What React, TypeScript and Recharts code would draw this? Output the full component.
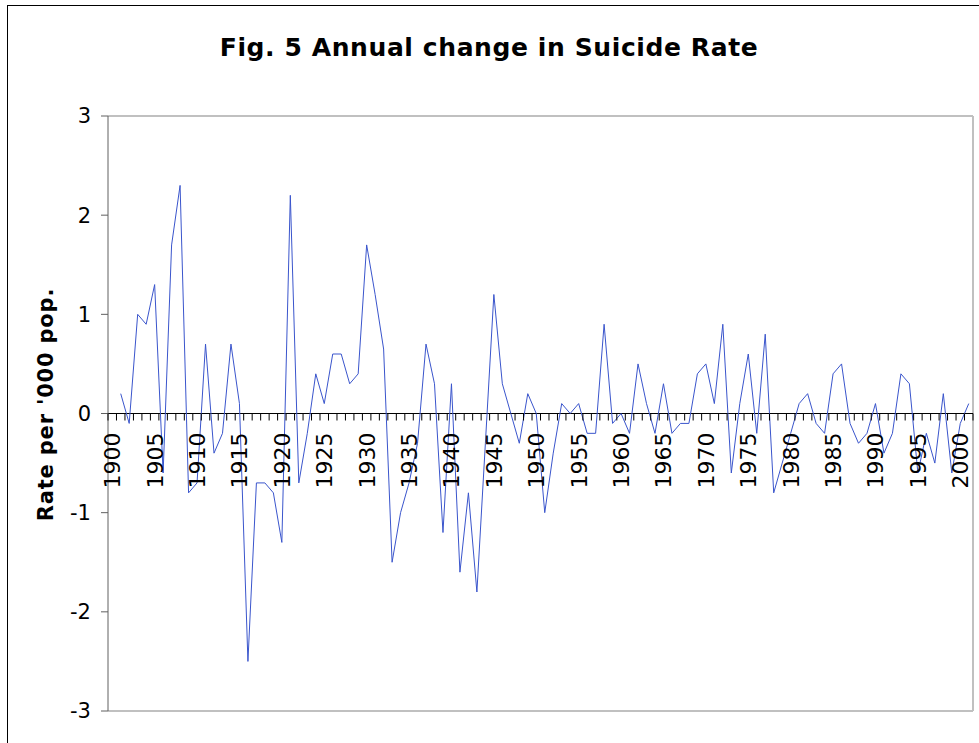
import React from 'react';
import { LineChart, Line, XAxis, YAxis, ReferenceLine, ReferenceDot } from 'recharts';

const FONT = '"DejaVu Sans", Verdana, sans-serif';

// Years of the category axis (1900 .. 2001); series starts at 1901
const firstCategoryYear = 1900;
const lastCategoryYear = 2001;
const firstDataYear = 1901;

// Annual change in suicide rate (per '000 pop.), 1901 .. 2001
const rateChange = [
  0.2, -0.1, 1.0, 0.9, 1.3, -0.6, 1.7, 2.3, -0.8, -0.7, // 1901-1910
  0.7, -0.4, -0.2, 0.7, 0.1, -2.5, -0.7, -0.7, -0.8, -1.3, // 1911-1920
  2.2, -0.7, -0.2, 0.4, 0.1, 0.6, 0.6, 0.3, 0.4, 1.7, // 1921-1930
  1.2, 0.65, -1.5, -1.0, -0.7, -0.3, 0.7, 0.3, -1.2, 0.3, // 1931-1940
  -1.6, -0.8, -1.8, -0.3, 1.2, 0.3, 0.0, -0.3, 0.2, 0.0, // 1941-1950
  -1.0, -0.4, 0.1, 0.0, 0.1, -0.2, -0.2, 0.9, -0.1, 0.0, // 1951-1960
  -0.2, 0.5, 0.1, -0.2, 0.3, -0.2, -0.1, -0.1, 0.4, 0.5, // 1961-1970
  0.1, 0.9, -0.6, 0.1, 0.6, -0.2, 0.8, -0.8, -0.5, -0.2, // 1971-1980
  0.1, 0.2, -0.1, -0.2, 0.4, 0.5, -0.1, -0.3, -0.2, 0.1, // 1981-1990
  -0.4, -0.2, 0.4, 0.3, -0.6, -0.2, -0.5, 0.2, -0.6, -0.1, // 1991-2000
  0.1, // 2001
];

const yTicks = [-3, -2, -1, 0, 1, 2, 3];
const yearLabels = [
  1900, 1905, 1910, 1915, 1920, 1925, 1930, 1935, 1940, 1945, 1950,
  1955, 1960, 1965, 1970, 1975, 1980, 1985, 1990, 1995, 2000,
];

const data = rateChange.map((v, i) => ({ year: firstDataYear + i, rate: v }));

// category boundaries (tick marks sit between categories)
const boundaries: number[] = [];
for (let y = firstCategoryYear; y <= lastCategoryYear + 1; y++) boundaries.push(y - 0.5);

const TickMark = (props: any) => (
  <line x1={props.cx} y1={props.cy} x2={props.cx} y2={props.cy + 7} stroke="#000" strokeWidth={1} />
);

const YearLabel = (label: number) => (props: any) => (
  <g transform={`translate(${props.cx}, ${props.cy})`}>
    <text
      transform="rotate(-90)"
      x={-19}
      y={8}
      style={{ textAnchor: 'end', fontFamily: FONT, fontSize: '22px', fill: '#000' }}
    >
      {label}
    </text>
  </g>
);

const YTitle = (props: any) => {
  const vb = props.viewBox || { x: 0, y: 0, width: 0, height: 0 };
  const cx = vb.x + 38;
  const cy = vb.y + vb.height / 2 - 9;
  return (
    <text
      transform={`translate(${cx}, ${cy}) rotate(-90)`}
      textAnchor="middle"
      fontFamily={FONT}
      fontWeight="bold"
      fontSize={21}
      letterSpacing={0.8}
      fill="#000"
    >
      Rate per '000 pop.
    </text>
  );
};

export default function App() {
  return (
    <div
      style={{
        position: 'absolute',
        left: 7,
        top: 5,
        width: 972,
        height: 738,
        borderLeft: '1px solid #000',
        borderTop: '1px solid #000',
        boxSizing: 'border-box',
        background: '#fff',
        overflow: 'hidden',
      }}
    >
      <div
        style={{
          position: 'absolute',
          left: 0,
          top: 27,
          width: 962,
          textAlign: 'center',
          fontFamily: FONT,
          fontWeight: 'bold',
          fontSize: 25,
          letterSpacing: 0.6,
          color: '#000',
          lineHeight: '30px',
        }}
      >
        Fig. 5 Annual change in Suicide Rate
      </div>
      <div style={{ position: 'absolute', left: -1, top: -1 }}>
        <LineChart
          width={972}
          height={738}
          data={data}
          margin={{ top: 111, right: 6, bottom: 32, left: 8 }}
        >
          <XAxis
            type="number"
            dataKey="year"
            domain={[firstCategoryYear - 0.5, lastCategoryYear + 0.5]}
            hide
          />
          <YAxis
            type="number"
            domain={[-3, 3]}
            ticks={yTicks}
            width={93}
            interval={0}
            tickSize={7}
            tickMargin={10}
            axisLine={{ stroke: '#606060' }}
            tickLine={{ stroke: '#606060' }}
            tick={{ fontSize: 21, fill: '#000', fontFamily: FONT }}
            label={{ content: YTitle }}
          />
          <ReferenceLine y={3} stroke="#c0c0c0" strokeWidth={2} />
          <ReferenceLine y={-3} stroke="#c0c0c0" strokeWidth={2} />
          <ReferenceLine x={lastCategoryYear + 0.5} stroke="#c0c0c0" strokeWidth={2} />
          <ReferenceLine y={0} stroke="#000" strokeWidth={1} />
          {boundaries.map((b) => (
            <ReferenceDot key={`t${b}`} x={b} y={0} r={0} shape={TickMark} ifOverflow="visible" />
          ))}
          {yearLabels.map((yr) => (
            <ReferenceDot key={`l${yr}`} x={yr} y={0} r={0} shape={YearLabel(yr)} ifOverflow="visible" />
          ))}
          <Line
            type="linear"
            dataKey="rate"
            stroke="#3a55cc"
            strokeWidth={1}
            dot={false}
            isAnimationActive={false}
          />
        </LineChart>
      </div>
    </div>
  );
}
